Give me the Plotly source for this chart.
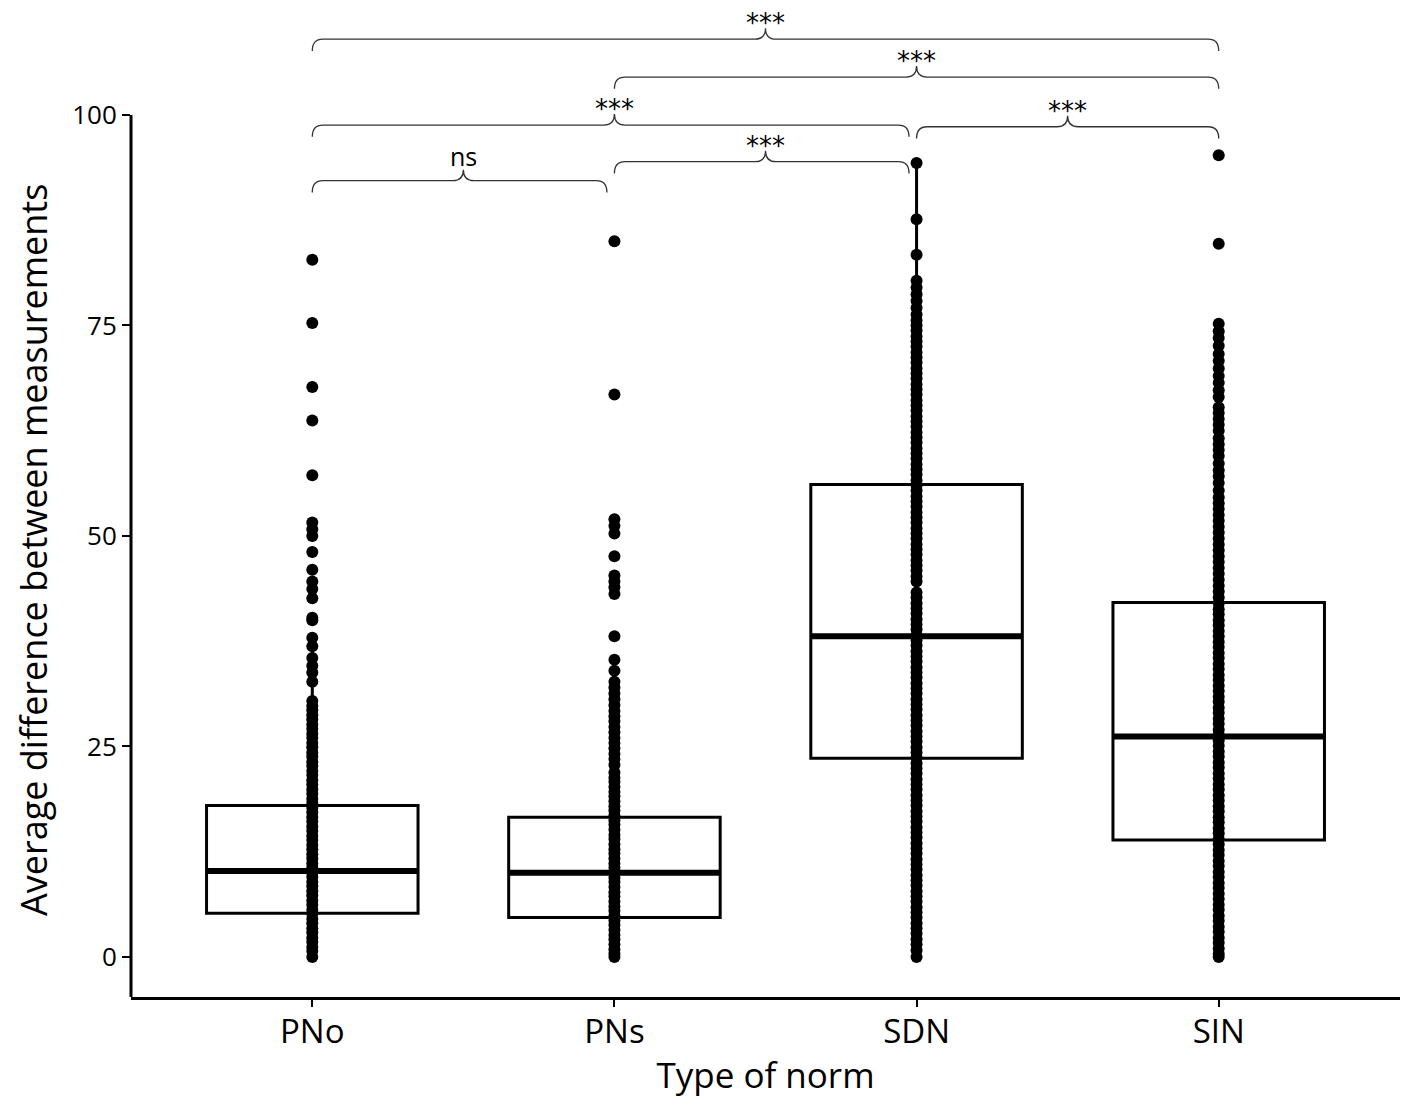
import plotly.graph_objects as go

# ---------------- data ----------------
categories = ["PNo", "PNs", "SDN", "SIN"]

q1_vals = [5.2, 4.7, 23.6, 13.9]
median_vals = [10.2, 10.0, 38.1, 26.2]
q3_vals = [18.0, 16.6, 56.1, 42.1]
lower_fence = [0.0, 0.0, 0.0, 0.0]
upper_fence = [36.9, 34.0, 94.3, 75.2]

pno_points = [82.8, 75.3, 67.7, 63.7, 57.2, 51.6, 50.8, 50.0, 48.1, 46.0, 44.6, 43.7,
              42.6, 40.3, 40.0, 37.9, 36.9, 35.5, 34.6, 33.8, 32.7, 30.4, 29.8, 29.3,
              28.7, 28.2, 27.6, 27.1, 26.5, 26.0, 25.4, 24.9, 24.3, 23.8, 23.2, 22.7,
              22.1, 21.6, 21.0, 20.5, 19.9, 19.4, 18.8, 18.3, 17.7, 17.2, 16.6, 16.1,
              15.5, 15.0, 14.4, 13.9, 13.3, 12.8, 12.2, 11.7, 11.1, 10.6, 10.0, 9.5,
              8.9, 8.4, 7.8, 7.3, 6.7, 6.2, 5.6, 5.1, 4.5, 4.0, 3.4, 2.9, 2.3, 1.8,
              1.2, 0.7, 0.0]

pns_points = [85.0, 66.8, 52.0, 51.2, 50.3, 47.6, 45.3, 44.6, 43.9, 43.1, 38.1, 35.3,
              34.0, 32.7, 32.0, 31.3, 30.6, 29.9, 29.2, 28.6, 28.0, 27.3, 26.7, 26.0,
              25.4, 24.8, 24.1, 23.5, 22.8, 21.9, 21.3, 20.8, 20.2, 19.6, 19.1, 18.5,
              17.9, 17.4, 16.8, 16.2, 15.7, 15.1, 14.5, 14.0, 13.4, 12.8, 12.3, 11.7,
              11.1, 10.6, 10.0, 9.4, 8.9, 8.3, 7.7, 7.2, 6.6, 6.0, 5.5, 4.9, 4.3, 3.8,
              3.2, 2.6, 2.1, 1.5, 0.9, 0.4, 0.0]

sdn_points = [94.3, 87.6, 83.4, 80.3, 79.5, 78.7, 77.9, 77.1, 76.3, 75.6, 75.0, 74.4,
              73.7, 73.1, 72.5, 71.8, 71.2, 70.6, 69.9, 69.3, 68.7, 68.0, 67.4, 66.8,
              66.1, 65.5, 64.9, 64.2, 63.6, 63.0, 62.3, 61.7, 61.1, 60.4, 59.8, 59.2,
              58.5, 57.9, 57.3, 56.6, 56.0, 55.4, 54.7, 54.1, 53.5, 52.8, 52.2, 51.6,
              50.9, 50.3, 49.7, 49.0, 48.4, 47.8, 47.1, 46.5, 45.9, 45.2, 44.6, 43.3,
              42.7, 42.0, 41.4, 40.8, 40.1, 39.5, 38.9, 38.2, 37.6, 37.0, 36.3, 35.7,
              35.1, 34.4, 33.8, 33.2, 32.5, 31.9, 31.3, 30.6, 30.0, 29.4, 28.7, 28.1,
              27.5, 26.8, 26.2, 25.6, 24.9, 24.3, 23.7, 23.0, 22.4, 21.8, 21.1, 20.5,
              19.9, 19.2, 18.6, 18.0, 17.3, 16.7, 16.1, 15.4, 14.8, 14.2, 13.5, 12.9,
              12.3, 11.6, 11.0, 10.4, 9.7, 9.1, 8.5, 7.8, 7.2, 6.6, 5.9, 5.3, 4.7, 4.0,
              3.4, 2.8, 2.1, 1.5, 0.8, 0.0]

sin_points = [95.2, 84.7, 75.2, 74.3, 73.5, 72.6, 71.6, 70.8, 69.9, 69.0, 68.2, 67.3,
              66.5, 65.3, 64.6, 63.9, 63.2, 62.5, 61.6, 60.9, 60.2, 59.5, 58.6, 57.8,
              57.1, 56.3, 55.4, 54.6, 53.9, 53.2, 52.5, 51.8, 51.1, 50.4, 49.7, 49.0,
              48.3, 47.6, 46.9, 46.2, 45.5, 44.8, 44.1, 43.4, 42.7, 42.0, 41.3, 40.7,
              40.0, 39.4, 38.7, 38.1, 37.4, 36.8, 36.1, 35.5, 34.8, 34.2, 33.5, 32.9,
              32.2, 31.6, 30.9, 30.3, 29.6, 29.0, 28.3, 27.7, 27.0, 26.4, 25.7, 25.1,
              24.4, 23.8, 23.1, 22.5, 21.8, 21.2, 20.5, 19.9, 19.2, 18.6, 17.9, 17.3,
              16.6, 16.0, 15.3, 14.7, 14.0, 13.4, 12.7, 12.1, 11.4, 10.8, 10.1, 9.5,
              8.8, 8.2, 7.5, 6.9, 6.2, 5.6, 4.9, 4.3, 3.6, 3.0, 2.3, 1.7, 1.0, 0.4, 0.0]

points = [pno_points, pns_points, sdn_points, sin_points]

y_ticks = [0, 25, 50, 75, 100]
x_title = "Type of norm"
y_title = "Average difference between measurements"

# significance comparisons (category indices, 1-based) and bracket heights
bracket_start = [1, 2, 1, 3, 2, 1]
bracket_end = [4, 4, 3, 4, 3, 2]
bracket_level = [109.0, 104.5, 98.8, 98.6, 94.45, 92.2]
bracket_label = ["***", "***", "***", "***", "***", "ns"]

# ---------------- figure ----------------
xpos = [i + 1 for i in range(len(categories))]
BOX_W = 0.7
Y_MIN, Y_MAX = -4.75, 112.7

fig = go.Figure()

fig.add_trace(go.Box(
    x=xpos, q1=q1_vals, median=median_vals, q3=q3_vals,
    lowerfence=lower_fence, upperfence=upper_fence,
    width=BOX_W, whiskerwidth=0, boxpoints=False,
    fillcolor="white", line=dict(color="black", width=3),
    showlegend=False, hoverinfo="skip",
))

# thicker median bars
for xp, m in zip(xpos, median_vals):
    fig.add_trace(go.Scatter(
        x=[xp - BOX_W / 2, xp + BOX_W / 2], y=[m, m], mode="lines",
        line=dict(color="black", width=6), showlegend=False, hoverinfo="skip",
    ))

# data points
for xp, vals in zip(xpos, points):
    fig.add_trace(go.Scatter(
        x=[xp] * len(vals), y=vals, mode="markers",
        marker=dict(color="black", size=12, line=dict(width=0)),
        showlegend=False, hoverinfo="skip", cliponaxis=False,
    ))

# curly significance brackets
END_R = 0.035    # horizontal size of end curl (x units)
END_D = 1.4      # drop of the ends (y units)
MID_W = 0.035    # half width of the central cusp
MID_H = 1.3      # height of the central cusp
shapes = []
annotations = []
for s, e, lev, lab in zip(bracket_start, bracket_end, bracket_level, bracket_label):
    x1 = s
    x2 = e - 0.025 if e < len(categories) else e
    xm = (s + e) / 2
    path = (f"M {x1},{lev - END_D} Q {x1},{lev} {x1 + END_R},{lev} "
            f"L {xm - MID_W},{lev} Q {xm},{lev} {xm},{lev + MID_H} "
            f"Q {xm},{lev} {xm + MID_W},{lev} "
            f"L {x2 - END_R},{lev} Q {x2},{lev} {x2},{lev - END_D}")
    shapes.append(dict(type="path", path=path, xref="x", yref="y",
                       line=dict(color="#333333", width=1.3), layer="above"))
    if lab == "***":
        fnt = dict(family="DejaVu Sans", size=26, color="black")
        ysh = 5
    else:
        fnt = dict(family="Open Sans", size=25, color="black")
        ysh = 14
    annotations.append(dict(
        x=xm, y=lev + MID_H, xref="x", yref="y", text=lab, showarrow=False,
        yanchor="middle", yshift=ysh, borderpad=0, font=fnt,
    ))

# y axis title, centred on the 0-100 panel like the reference
annotations.append(dict(
    x=0, xref="paper", y=(Y_MIN + max(y_ticks)) / 2, yref="y",
    text=y_title, textangle=-90, showarrow=False,
    xanchor="center", yanchor="middle", xshift=-97, yshift=6,
    font=dict(family="Open Sans", size=36, color="black"),
))

# y axis line (only up to the top tick)
shapes.append(dict(type="line", xref="paper", yref="y", x0=0, x1=0,
                   y0=Y_MIN, y1=max(y_ticks), line=dict(color="black", width=3)))

fig.update_layout(
    width=1417, height=1111,
    margin=dict(l=123, r=25, t=0, b=122, autoexpand=False),
    paper_bgcolor="white", plot_bgcolor="white",
    shapes=shapes, annotations=annotations,
    font=dict(family="Open Sans", color="black"),
    xaxis=dict(
        range=[0.4, 4.6], tickvals=xpos, ticktext=categories,
        showline=True, linecolor="black", linewidth=3,
        ticks="outside", ticklen=7, tickwidth=2, tickcolor="black",
        showgrid=False, zeroline=False, ticklabelstandoff=-4,
        tickfont=dict(size=33, family="Open Sans"),
        title=dict(text=x_title, font=dict(size=35, family="Open Sans"), standoff=12),
    ),
    yaxis=dict(
        range=[Y_MIN, Y_MAX], tickvals=y_ticks,
        showline=False, ticks="outside", ticklen=8, tickwidth=2, tickcolor="black",
        showgrid=False, zeroline=False,
        tickfont=dict(size=26, family="Open Sans"),
    ),
)

fig.write_html("out.html")
